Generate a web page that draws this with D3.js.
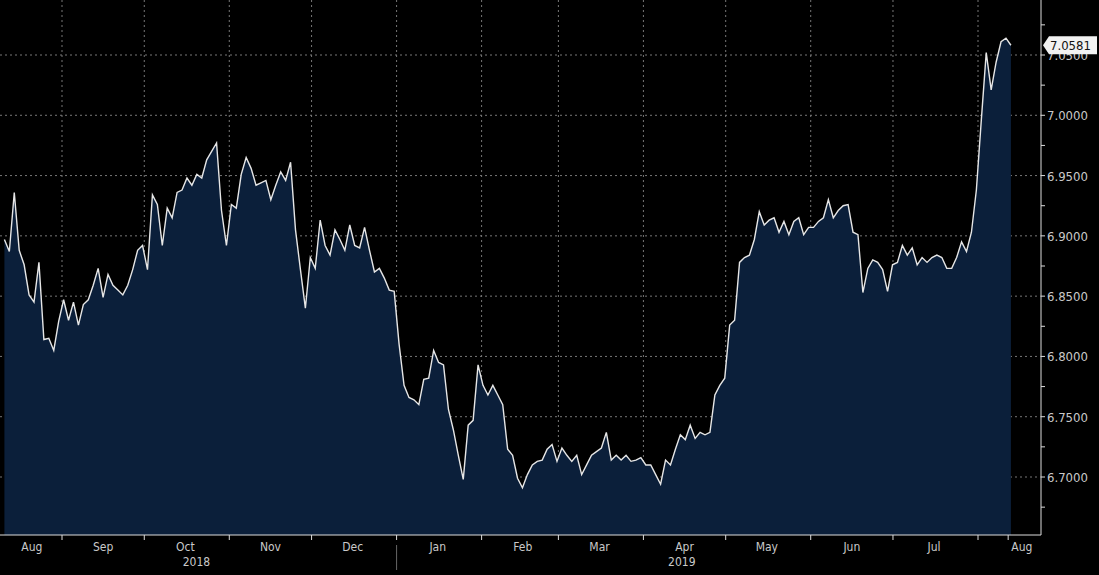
<!DOCTYPE html>
<html><head><meta charset="utf-8">
<script src="https://cdn.jsdelivr.net/npm/d3@7"></script>
<style>
body{margin:0;background:#000;}
text{font-family:"DejaVu Sans Condensed","DejaVu Sans",sans-serif;}
</style></head>
<body><svg id="c" width="1099" height="575"></svg>
<script>
// USD/CNY daily close
const startDate = new Date(2018, 7, 11);
const endDate = new Date(2019, 7, 13);
const values = [6.897,6.887,6.936,6.888,6.876,6.851,6.845,6.878,6.814,6.815,6.805,6.829,6.847,6.830,6.845,6.826,6.843,6.847,6.859,6.873,
  6.849,6.868,6.859,6.855,6.851,6.859,6.872,6.888,6.892,6.872,6.934,6.926,6.892,6.923,6.915,6.936,6.938,6.948,6.942,6.951,
  6.948,6.963,6.970,6.977,6.921,6.892,6.926,6.923,6.951,6.965,6.956,6.942,6.944,6.946,6.930,6.942,6.953,6.946,6.961,6.905,
  6.872,6.840,6.882,6.873,6.913,6.892,6.884,6.905,6.897,6.888,6.909,6.892,6.890,6.907,6.888,6.870,6.873,6.865,6.855,6.854,
  6.810,6.776,6.766,6.764,6.760,6.781,6.782,6.805,6.795,6.793,6.756,6.739,6.718,6.698,6.743,6.747,6.793,6.776,6.768,6.776,
  6.768,6.760,6.723,6.718,6.699,6.691,6.702,6.710,6.713,6.714,6.723,6.727,6.713,6.724,6.718,6.713,6.718,6.702,6.710,6.718,
  6.721,6.724,6.737,6.714,6.718,6.714,6.718,6.713,6.714,6.716,6.710,6.710,6.702,6.694,6.714,6.710,6.723,6.735,6.731,6.743,
  6.732,6.737,6.735,6.737,6.768,6.776,6.782,6.826,6.830,6.878,6.882,6.884,6.897,6.920,6.909,6.913,6.915,6.903,6.912,6.901,
  6.912,6.915,6.901,6.907,6.907,6.912,6.915,6.930,6.915,6.921,6.925,6.926,6.903,6.901,6.853,6.873,6.880,6.878,6.872,6.854,
  6.876,6.878,6.892,6.884,6.890,6.876,6.882,6.878,6.882,6.884,6.882,6.873,6.873,6.882,6.895,6.887,6.903,6.938,6.996,7.052,
  7.021,7.044,7.061,7.064,7.0581];
const yTicks = [6.70, 6.75, 6.80, 6.85, 6.90, 6.95, 7.00, 7.05];
const monthLabels = ["Aug","Sep","Oct","Nov","Dec","Jan","Feb","Mar","Apr","May","Jun","Jul","Aug"];
const years = ["2018", "2019"];

const n = values.length;
const data = values.map((v, i) => ({
  date: new Date(+startDate + i * (endDate - startDate) / (n - 1)), v
}));

const svg = d3.select("#c");
const W = 1041, H = 535;
const x = d3.scaleTime().domain([new Date(2018,8,1), new Date(2019,7,1)]).range([62, 978]);
const y = d3.scaleLinear().domain([6.70, 7.05]).range([477, 55]);
const fg = "#c9c9c9";

// grid
svg.append("g").selectAll("line").data(yTicks).join("line")
  .attr("x1", 0).attr("x2", W).attr("y1", d => y(d)).attr("y2", d => y(d))
  .attr("stroke", "#777").attr("stroke-dasharray", "2,3");
const months = d3.timeMonth.range(new Date(2018,8,1), new Date(2019,7,2));
svg.append("g").selectAll("line").data(months).join("line")
  .attr("x1", d => x(d)).attr("x2", d => x(d)).attr("y1", 0).attr("y2", H)
  .attr("stroke", "#777").attr("stroke-dasharray", "2,3");

// area + line
svg.append("path").datum(data)
  .attr("d", d3.area().x(d => x(d.date)).y0(H).y1(d => y(d.v)))
  .attr("fill", "#0b1f3a");
svg.append("path").datum(data)
  .attr("d", d3.line().x(d => x(d.date)).y(d => y(d.v)))
  .attr("fill", "none").attr("stroke", "#e6e6e6").attr("stroke-width", 1.4);

// axes lines
svg.append("line").attr("x1", W).attr("x2", W).attr("y1", 0).attr("y2", H).attr("stroke", "#ddd");
svg.append("line").attr("x1", 0).attr("x2", W).attr("y1", H).attr("y2", H).attr("stroke", "#ddd");

// right axis
const minor = d3.range(6.675, 7.1, 0.025);
svg.append("g").selectAll("line").data(minor).join("line")
  .attr("x1", W).attr("x2", W + 4).attr("y1", d => y(d)).attr("y2", d => y(d)).attr("stroke", "#ddd");
svg.append("g").selectAll("text").data(yTicks).join("text")
  .attr("x", W + 6).attr("y", d => y(d) + 5).attr("fill", fg).attr("font-size", 13)
  .text(d => d3.format(".4f")(d));

// last value tag
const last = values[n - 1];
const ly = y(last);
svg.append("path").attr("d", `M${W+2},${ly} l6,-9 h48 v18 h-48 z`).attr("fill", "#f2f2f2");
svg.append("text").attr("x", W + 9).attr("y", ly + 5).attr("fill", "#111").attr("font-size", 13)
  .text(d3.format(".4f")(last));

// bottom axis
svg.append("g").selectAll("line").data(months.concat([new Date(2019,7,12)])).join("line")
  .attr("x1", d => x(d)).attr("x2", d => x(d)).attr("y1", H).attr("y2", H + 5).attr("stroke", "#ddd");
const labelMonths = d3.timeMonth.range(new Date(2018,7,1), new Date(2019,7,2));
svg.append("g").selectAll("text").data(labelMonths).join("text")
  .attr("x", (d, i) => i === 0 ? x(new Date(2018,7,21)) : i === 12 ? x(new Date(2019,7,17)) : x(new Date(+d + 15 * 864e5)))
  .attr("y", 551).attr("text-anchor", "middle").attr("fill", fg).attr("font-size", 12)
  .text((d, i) => monthLabels[i]);
svg.append("text").attr("x", x(new Date(2018,9,20))).attr("y", 566).attr("text-anchor", "middle")
  .attr("fill", fg).attr("font-size", 12).text(years[0]);
svg.append("text").attr("x", x(new Date(2019,3,15))).attr("y", 566).attr("text-anchor", "middle")
  .attr("fill", fg).attr("font-size", 12).text(years[1]);
svg.append("line").attr("x1", x(new Date(2019,0,1))).attr("x2", x(new Date(2019,0,1)))
  .attr("y1", 545).attr("y2", 570).attr("stroke", "#666");
</script></body></html>
